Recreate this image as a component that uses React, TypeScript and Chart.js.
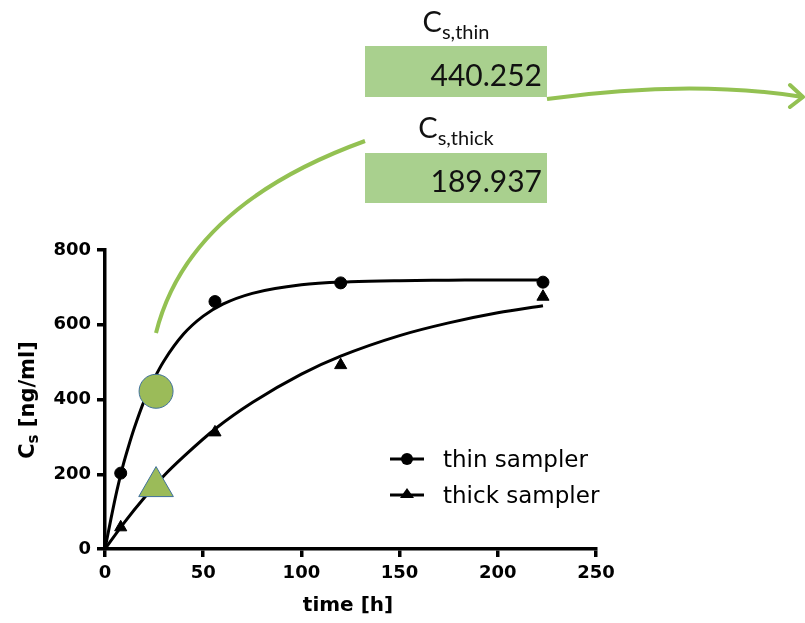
import React, { useEffect, useRef } from "react";
import { Chart, registerables } from "chart.js";

Chart.register(...registerables);

// measured samples
const thinT = [8, 56, 120, 223];
const thinY = [203, 662, 712, 714];
const thickT = [8, 56, 120, 223];
const thickY = [58, 312, 492, 675];

// fitted curves
const thinFitT = [0, 3, 6, 9, 12, 15, 20, 25, 30, 40, 50, 60, 75, 100, 125, 150, 175, 200, 223];
const thinFitY = [0, 80, 155, 220, 275, 325, 397, 455, 503, 575, 623, 655, 684, 707, 715, 718, 719, 720, 720];
const thickFitT = [0, 10, 20, 30, 40, 57, 75, 100, 120, 150, 175, 200, 223];
const thickFitY = [0, 72, 137, 196, 247, 325, 392, 468, 516, 571, 605, 632, 651];

// highlighted points
const markCircle = { t: 26, y: 422 };
const markTriangle = { t: 26, y: 167 };

const xTicks = [0, 50, 100, 150, 200, 250];
const yTicks = [0, 200, 400, 600, 800];

const csThin = "440.252";
const csThick = "189.937";

const GREEN_LINE = "#93c152";
const GREEN_FILL = "#9bbb59";
const BOX_FILL = "#a9d08e";

function zip(ts: number[], ys: number[]) {
  return ts.map((t, i) => ({ x: t, y: ys[i] }));
}

export default function App() {
  const ref = useRef<HTMLCanvasElement | null>(null);

  useEffect(() => {
    if (!ref.current) return;
    const axisFont = { family: "'DejaVu Sans', sans-serif", weight: "bold" as const, size: 18 };
    const chart = new Chart(ref.current, {
      type: "scatter",
      data: {
        datasets: [
          {
            label: "circleMark",
            data: [{ x: markCircle.t, y: markCircle.y }],
            pointStyle: "circle",
            pointRadius: 17,
            backgroundColor: GREEN_FILL,
            borderColor: "#41719c",
            borderWidth: 1,
            showLine: false,
            order: 0,
          },
          {
            label: "triangleMark",
            data: [{ x: markTriangle.t, y: markTriangle.y }],
            pointStyle: "triangle",
            pointRadius: 20,
            backgroundColor: GREEN_FILL,
            borderColor: "#41719c",
            borderWidth: 1,
            showLine: false,
            order: 0,
          },
          {
            label: "thin sampler",
            data: zip(thinT, thinY),
            pointStyle: "circle",
            pointRadius: 6,
            backgroundColor: "#000",
            borderColor: "#000",
            borderWidth: 1,
            showLine: false,
            order: 1,
          },
          {
            label: "thick sampler",
            data: zip(thickT, thickY),
            pointStyle: "triangle",
            pointRadius: 7,
            backgroundColor: "#000",
            borderColor: "#000",
            borderWidth: 1,
            showLine: false,
            order: 1,
          },
          {
            label: "thin fit",
            data: zip(thinFitT, thinFitY),
            showLine: true,
            pointRadius: 0,
            borderColor: "#000",
            borderWidth: 3,
            cubicInterpolationMode: "monotone",
            order: 2,
          },
          {
            label: "thick fit",
            data: zip(thickFitT, thickFitY),
            showLine: true,
            pointRadius: 0,
            borderColor: "#000",
            borderWidth: 3,
            cubicInterpolationMode: "monotone",
            order: 2,
          },
        ],
      },
      options: {
        responsive: false,
        animation: false,
        layout: { padding: { left: 0, top: 250, right: 209, bottom: 0 } },
        plugins: { legend: { display: false }, tooltip: { enabled: false } },
        scales: {
          x: {
            type: "linear",
            min: xTicks[0],
            max: xTicks[xTicks.length - 1],
            afterBuildTicks: (s: any) => {
              s.ticks = xTicks.map((v) => ({ value: v }));
            },
            afterFit: (s: any) => {
              s.height = 74;
            },
            ticks: { font: axisFont, color: "#000", padding: 6, maxRotation: 0 },
            grid: { display: true, drawOnChartArea: false, drawTicks: true, tickLength: 8, color: "#000", lineWidth: 3.5 },
            border: { display: true, color: "#000", width: 3.5 },
          },
          y: {
            type: "linear",
            min: yTicks[0],
            max: yTicks[yTicks.length - 1],
            afterBuildTicks: (s: any) => {
              s.ticks = yTicks.map((v) => ({ value: v }));
            },
            afterFit: (s: any) => {
              s.width = 105;
            },
            ticks: { font: axisFont, color: "#000", padding: 6 },
            grid: { display: true, drawOnChartArea: false, drawTicks: true, tickLength: 8, color: "#000", lineWidth: 3.5 },
            border: { display: true, color: "#000", width: 3.5 },
          },
        },
      },
    });
    return () => chart.destroy();
  }, []);

  const labelBase: React.CSSProperties = {
    position: "absolute",
    left: 365,
    width: 182,
    textAlign: "center",
    fontFamily: "Lato, sans-serif",
    fontSize: 29,
    lineHeight: "29px",
    color: "#111",
    whiteSpace: "nowrap",
  };
  const subStyle: React.CSSProperties = { fontSize: 20, verticalAlign: -7, lineHeight: 0 };
  const boxBase: React.CSSProperties = {
    position: "absolute",
    left: 365,
    width: 182,
    background: BOX_FILL,
    fontFamily: "Lato, sans-serif",
    fontSize: 30,
    color: "#111",
    textAlign: "right",
    boxSizing: "border-box",
    paddingRight: 5,
  };
  const legendText: React.CSSProperties = {
    position: "absolute",
    left: 443,
    fontFamily: "'DejaVu Sans', sans-serif",
    fontSize: 23,
    lineHeight: "26px",
    color: "#000",
    whiteSpace: "nowrap",
  };

  return (
    <div style={{ position: "fixed", left: 0, top: 0, width: 805, height: 623, overflow: "hidden", background: "#fff" }}>
      <canvas ref={ref} width={805} height={623} style={{ position: "absolute", left: 0, top: 0 }} />
      <svg width={805} height={623} style={{ position: "absolute", left: 0, top: 0, pointerEvents: "none" }}>
        <path d="M156,333 Q188,205 365,141" stroke={GREEN_LINE} strokeWidth={4} fill="none" />
        <path d="M547,99 Q690,79 803,97" stroke={GREEN_LINE} strokeWidth={4} fill="none" />
        <path d="M790,85 L803,97 L790,107" stroke={GREEN_LINE} strokeWidth={4} fill="none" strokeLinecap="round" strokeLinejoin="round" />
        <line x1={390} y1={459} x2={424} y2={459} stroke="#000" strokeWidth={3} />
        <circle cx={407} cy={459} r={6} fill="#000" />
        <line x1={390} y1={495} x2={424} y2={495} stroke="#000" strokeWidth={3} />
        <path d="M407,488 L414,498 L400,498 Z" fill="#000" />
      </svg>
      <div style={{ ...labelBase, top: 6 }}>
        C<span style={subStyle}>s,thin</span>
      </div>
      <div style={{ ...boxBase, top: 46, height: 51, lineHeight: "56px" }}>{csThin}</div>
      <div style={{ ...labelBase, top: 112 }}>
        C<span style={subStyle}>s,thick</span>
      </div>
      <div style={{ ...boxBase, top: 153, height: 50, lineHeight: "55px" }}>{csThick}</div>
      <div style={{ ...legendText, top: 446 }}>thin sampler</div>
      <div style={{ ...legendText, top: 482 }}>thick sampler</div>
      <div
        style={{
          position: "absolute",
          left: 348,
          top: 604,
          transform: "translate(-50%, -50%)",
          fontFamily: "'DejaVu Sans', sans-serif",
          fontWeight: "bold",
          fontSize: 20,
          color: "#000",
          whiteSpace: "nowrap",
        }}
      >
        time [h]
      </div>
      <div
        style={{
          position: "absolute",
          left: 27,
          top: 400,
          transform: "translate(-50%, -50%) rotate(-90deg)",
          fontFamily: "'DejaVu Sans', sans-serif",
          fontWeight: "bold",
          fontSize: 21,
          color: "#000",
          whiteSpace: "nowrap",
        }}
      >
        C<span style={{ fontSize: 15, verticalAlign: -4, lineHeight: 0 }}>s</span> [ng/ml]
      </div>
    </div>
  );
}
